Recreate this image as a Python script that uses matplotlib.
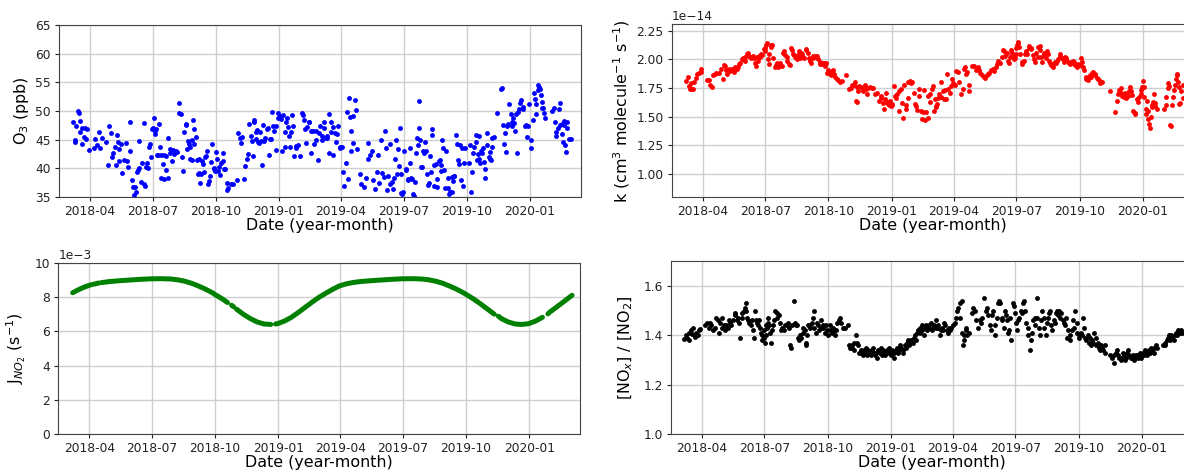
import numpy as np
import matplotlib
matplotlib.use("Agg")
import matplotlib.pyplot as plt
import matplotlib.dates as mdates

# Day offsets are counted from 2018-03-01
BASE_DATE = np.datetime64("2018-03-01")

# ---------------- O3 (ppb) ----------------
o3_days = [7, 9, 10, 11, 13, 15, 16, 17, 19, 20, 22, 24, 25, 27, 29,
           37, 39, 42, 44, 46, 49, 55, 58, 59, 61,
           63, 64, 67, 69, 70, 72, 73, 74, 76, 78, 81, 83, 85, 87, 89, 90, 92,
           93, 95, 96, 98, 99, 101, 102, 103, 105, 107, 109, 110, 111, 112, 114, 116, 117, 118, 120, 121, 122,
           124, 125, 126, 127, 128, 130, 131, 133, 134, 135, 137, 138, 139, 141, 142, 144, 145, 147, 148, 150, 152, 153,
           156, 158, 160, 161, 163, 165, 166, 168, 170, 171, 172, 174, 175, 176, 177, 179, 180, 181, 182, 183,
           185, 186, 188, 189, 190, 191, 193, 194, 196, 197, 199, 200, 201, 203, 204, 206, 207, 209, 211, 212, 213,
           215, 216, 217, 218, 220, 222, 224, 225, 226, 228, 230, 231, 232, 236, 239, 245,
           247, 249, 250, 252, 255, 256, 259, 261, 262, 265, 266, 268, 269, 270, 272, 273, 274, 276,
           277, 279, 280, 281, 283, 284, 286, 288, 290, 291, 293, 294, 296, 297, 299, 301, 302, 304, 305,
           308, 309, 310, 312, 314, 315, 316, 318, 319, 320, 322, 323, 325, 327, 328, 330, 331, 333, 336,
           340, 341, 342, 344, 345, 347, 349, 350, 352, 353, 355, 357, 359, 360, 362, 364,
           365, 368, 369, 371, 372, 374, 375, 376, 378, 379, 381, 382, 384, 385, 387, 389, 390, 392, 394, 395,
           397, 399, 400, 403, 405, 406, 407, 409, 410, 411, 413, 414, 417, 418, 420, 423, 425,
           430, 433, 435, 436, 438, 441, 443, 446, 448, 450, 452, 454, 456,
           458, 460, 462, 463, 465, 467, 468, 470, 471, 473, 475, 476, 478, 479, 481, 482, 483, 484, 485, 486,
           488, 490, 491, 493, 494, 496, 497, 498, 500, 501, 502, 503, 505, 507, 508, 509, 510, 511, 512, 514, 515, 517,
           518, 520, 521, 522, 524, 525, 527, 528, 529, 531, 532, 534, 535, 536, 538, 540, 541, 542, 543, 544, 546, 547,
           549, 551, 552, 553, 555, 557, 558, 559, 560, 561, 563, 565, 566, 567, 569, 571, 572, 574, 575, 577,
           582, 583, 585, 587, 588, 590, 592, 593, 594, 595, 596, 597, 598, 600, 601, 602, 604, 605, 606, 608, 609,
           611, 612, 613, 614, 615, 616, 618, 623, 629, 630, 632, 633, 635, 636, 638, 639,
           641, 643, 644, 645, 646, 648, 649, 650, 652, 653, 655, 656, 658, 660, 661, 663, 665, 666, 668, 670,
           672, 673, 675, 676, 678, 679, 680, 682, 683, 684, 685, 687, 688, 689, 690, 691, 693,
           703, 706, 707, 708, 709, 711, 713, 714, 715, 717, 718, 719, 720, 721, 722, 723, 724, 725, 727, 730]
o3_ppb = [48, 44.6, 45, 47.3, 50, 49.7, 46.3, 48.3, 47, 44.2, 45.5, 47, 45.2, 46.8, 43.2,
          43.6, 45.1, 44, 46.4, 43.6, 45.3, 44.6, 40.5, 47.4, 46.2,
          42, 42.6, 43.8, 40.5, 45.9, 44.6, 41.3, 43.3, 44.2, 39.2, 41.4, 44.4, 41.2, 40.2, 48, 43, 38,
          36.8, 35.3, 36.8, 35.9, 39.4, 39.7, 40, 44.7, 37.6, 41, 47.9, 37.3, 36.9, 40.2, 41, 40, 43.7, 44.3, 42, 46.9, 47,
          48.8, 46.5, 46, 46.8, 42.3, 42.4, 47.8, 43.8, 42.3, 38.3, 40.7, 38.2, 42.3, 39.7, 42.2, 38.3, 45.3, 43.4, 42.7, 41.2, 43.2, 42.5,
          43, 42.8, 49.6, 51.4, 49.4, 42, 39.5, 46.3, 47.8, 47.6, 43.4, 44.7, 44.3, 41.7, 43.7, 41.5, 45, 48.5, 46.8, 44.3,
          45.5, 41.4, 39, 41.7, 39.2, 37.4, 39, 41.3, 40.8, 39.3, 42, 42.2, 43, 37.3, 37.8, 38.6, 41.1, 44.3, 39.9, 40, 39.5,
          42.8, 41.7, 39.5, 40.2, 38.9, 41, 42.6, 41.3, 39.8, 39.8, 37.4, 36.3, 36.6, 37.2, 37.2, 38,
          46.1, 45.3, 44.4, 45.4, 38.2, 40.4, 41.7, 42.5, 47.7, 45.7, 44.8, 42.2, 48.4, 48.1, 46.3, 45.2, 46.7, 44.6,
          44.5, 46.3, 44.8, 40.6, 47.5, 44.8, 45.3, 46.9, 47, 42.4, 45.2, 45.2, 49.8, 47.3, 46.5, 47.3, 43.2, 49.6, 48.7,
          49.2, 48.6, 43, 49.3, 46.4, 43.7, 48.1, 48.8, 47.2, 45.7, 43.7, 46.4, 49.3, 47.4, 42.2, 43.9, 43.6, 44.1, 42.1,
          49.7, 49.3, 48.4, 46.8, 44.4, 47.2, 48.1, 48, 42.6, 46.6, 46.6, 44.2, 46.5, 45, 41.4, 46.2,
          47.4, 45, 45.7, 47, 48, 45.3, 45.3, 45.6, 42.7, 49.4, 46.3, 48, 47.2, 42.3, 46.1, 44.6, 46, 47.3, 43.6, 43.8,
          43.8, 39.3, 37, 41, 49.9, 38.2, 52.3, 49, 46.5, 43, 44.4, 49.2, 51.9, 50.2, 43.3, 39.1, 37.2,
          36.7, 38.3, 44.4, 41.7, 42.3, 43, 37.9, 36.4, 39.3, 42.3, 37.5, 44.9, 39.2,
          38.5, 46.6, 43.5, 36.3, 38.7, 37.2, 44.2, 37.7, 36.4, 38.3, 41.7, 45, 39.1, 43.4, 40.4, 47.1, 39, 35.7, 35.5, 35.9,
          43, 39.7, 39.8, 37.9, 38.2, 43.6, 41, 38.3, 38.2, 35.5, 35.2, 37.6, 42.7, 45.3, 44, 51.8, 47, 45, 40.3, 40.3, 43, 42.7,
          44.6, 43, 39, 37.1, 37.5, 42.2, 39.3, 46.8, 45.8, 40.6, 36.9, 40.7, 38.2, 36.8, 41.3, 41.5, 40.5, 39.5, 45, 43.6, 39.7, 36.6,
          43, 36.6, 38.3, 35.5, 35.8, 35.9, 38.5, 37.8, 38.6, 38.7, 45.8, 44.2, 41.4, 40.8, 44, 37.9, 43.6, 36.9, 40.9, 43.6,
          40.9, 44, 35.8, 39.4, 42.6, 43.8, 45.9, 44.6, 41.4, 42.5, 45.6, 41.6, 40.9, 43, 42.6, 43.6, 41.1, 38.4, 39.8, 44, 46.1,
          42, 41.6, 42.9, 41.4, 43.8, 45.3, 45.5, 49.6, 53.9, 54.1, 47.5, 44.3, 46.1, 42.9, 47.4, 47.8,
          51.3, 49.5, 47.3, 48, 48.8, 47.9, 46.6, 49.4, 42.7, 49.8, 50.4, 51.4, 51.9, 50.3, 50.7, 47.4, 47.6, 45.5, 47.3, 51.2,
          44.9, 43.5, 48.4, 53.2, 52.1, 49.4, 51.2, 53.6, 54.6, 54.2, 53.9, 52.8, 51.6, 50.6, 50.6, 49.7, 48.7,
          50, 50.5, 48, 46.3, 45.6, 47, 50.3, 51.4, 47.5, 47.8, 46, 44.6, 47.6, 48.3, 44.1, 42.8, 48.1, 47, 45.1, 45.2]

# ---------------- rate constant k (units of 1e-14 cm3 molecule-1 s-1) ----------------
k_days = [7, 9, 11, 12, 14, 16, 17, 19, 21, 23, 25, 28, 29,
          38, 40, 42, 44, 46, 49, 51, 55, 57, 60, 62, 63, 65,
          67, 69, 71, 73, 74, 76, 78, 81, 83, 84, 86, 88, 90, 92, 93, 95, 97, 98, 100, 101, 104, 105, 107, 108,
          110, 111, 113, 115, 116, 118, 120, 121, 122, 123, 125, 126, 127, 128, 130, 131, 132, 134, 136, 137, 139, 141, 142, 144, 146,
          148, 149, 151, 153, 154, 156, 158, 159, 161, 163, 164, 166, 168, 169, 171, 173, 174, 176, 177, 179,
          181, 182, 184, 186, 187, 189, 191, 192, 194, 196, 197, 199, 201, 202, 204, 206, 207, 209, 210, 212,
          214, 215, 217, 219, 220, 222, 224, 226, 228, 230, 233, 239, 244, 246,
          248, 251, 253, 254, 255, 256, 257, 259, 261, 262, 264, 267, 269, 270, 272, 274, 277, 279, 282, 284,
          288, 290, 291, 293, 294, 296, 297, 299, 300, 302, 303, 305, 306, 307, 309, 311, 312, 314, 316, 317, 319, 321, 322, 324, 326, 327,
          329, 330, 332, 334, 336, 338, 340, 341, 343, 345, 346, 348, 350, 352, 353, 355, 356, 358, 359, 361,
          362, 364, 366, 367, 369, 370, 371, 372, 373, 375, 377, 378, 380, 382, 383, 385, 386, 388, 390, 392, 394, 395,
          398, 400, 402, 404, 407, 409, 411, 413, 414, 416, 418, 419, 422, 426, 429,
          431, 433, 435, 437, 440, 442, 444, 446, 448, 450, 453, 455, 457, 459, 461, 464, 466, 468, 469,
          471, 473, 475, 476, 478, 480, 481, 483, 484, 485, 486, 487, 488, 489, 490, 491, 492,
          495, 496, 498, 500, 501, 503, 505, 506, 508, 509, 511, 513, 514, 516, 518, 519, 521, 522, 523, 525, 527, 528, 530, 532, 533, 535,
          536, 538, 540, 541, 543, 545, 546, 548, 550, 551, 553, 555, 556, 558, 560, 561, 563, 565, 566, 568, 570, 571, 573, 575, 577, 579,
          581, 583, 584, 586, 588, 589, 591, 592, 594, 596, 597, 599, 601, 602, 604, 606, 607, 609, 611,
          624, 631, 633, 635, 637, 639, 640, 641, 642, 644, 645, 647, 648, 649, 651, 652, 654, 655, 657, 659, 660,
          663, 664, 666, 668, 669, 670, 671, 672, 673, 675, 676, 677, 678, 679, 680, 682, 683, 684, 685, 686, 687, 688, 689, 691,
          702, 704, 705, 707, 708, 709, 711, 712, 713, 715, 716, 718, 719, 720, 721, 722, 723, 724, 725, 727, 729, 730]
k_e14 = [1.81, 1.85, 1.77, 1.74, 1.79, 1.74, 1.74, 1.8, 1.84, 1.87, 1.88, 1.89, 1.92,
         1.82, 1.82, 1.78, 1.76, 1.86, 1.87, 1.88, 1.88, 1.92, 1.83, 1.95, 1.94, 1.91,
         1.87, 1.92, 1.9, 1.92, 1.91, 1.89, 1.93, 1.92, 1.93, 1.96, 1.97, 2.0, 2.01, 2.02, 1.99, 2.05, 2.06, 2.03, 2.02, 2.01, 2.03, 2.01, 1.97, 1.94,
         2.02, 1.99, 2.03, 2.02, 2.05, 2.04, 2.09, 2.1, 2.07, 2.13, 2.14, 2.0, 1.96, 2.05, 2.11, 2.13, 2.13, 2.01, 1.93, 1.95, 1.97, 1.93, 1.94, 1.97, 1.94,
         2.06, 2.07, 2.04, 2.02, 1.99, 1.96, 1.95, 2.1, 2.08, 2.05, 2.04, 2.02, 2.0, 2.04, 2.07, 2.01, 2.06, 2.05, 2.02, 2.01,
         2.09, 2.08, 2.06, 2.01, 1.99, 1.97, 2.03, 2.01, 2.03, 2.02, 2.03, 2.0, 1.96, 1.98, 1.96, 1.97, 1.97, 1.94, 1.97, 1.88,
         1.91, 1.88, 1.86, 1.9, 1.91, 1.87, 1.85, 1.83, 1.82, 1.8, 1.81, 1.86, 1.74, 1.75,
         1.78, 1.78, 1.8, 1.64, 1.76, 1.63, 1.72, 1.77, 1.76, 1.75, 1.72, 1.78, 1.74, 1.7, 1.75, 1.76, 1.75, 1.75, 1.7, 1.71,
         1.64, 1.68, 1.66, 1.62, 1.57, 1.65, 1.71, 1.62, 1.63, 1.6, 1.64, 1.59, 1.61, 1.6, 1.77, 1.68, 1.66, 1.7, 1.55, 1.72, 1.74, 1.62, 1.49, 1.78, 1.6, 1.57,
         1.66, 1.8, 1.81, 1.79, 1.8, 1.71, 1.61, 1.59, 1.56, 1.68, 1.74, 1.55, 1.48, 1.54, 1.73, 1.47, 1.54, 1.49, 1.68, 1.63,
         1.7, 1.74, 1.77, 1.55, 1.65, 1.58, 1.59, 1.61, 1.66, 1.7, 1.67, 1.8, 1.72, 1.65, 1.73, 1.65, 1.87, 1.74, 1.71, 1.77, 1.83, 1.79,
         1.78, 1.9, 1.89, 1.8, 1.7, 1.74, 1.92, 1.93, 1.87, 1.89, 1.78, 1.72, 1.94, 1.94, 1.91,
         1.93, 1.91, 1.88, 1.86, 1.85, 1.84, 1.86, 1.87, 1.88, 1.91, 1.92, 1.9, 1.93, 1.96, 1.99, 1.97, 2.02, 2.08, 2.07,
         2.03, 2.06, 1.99, 1.97, 2.02, 2.08, 2.06, 2.03, 2.0, 2.01, 2.05, 2.1, 2.13, 2.14, 2.15, 2.11, 2.05,
         1.98, 1.96, 1.99, 2.05, 2.07, 2.05, 2.1, 2.12, 2.09, 2.1, 2.04, 2.0, 1.98, 2.06, 2.02, 2.11, 2.12, 2.08, 2.02, 1.98, 2.06, 2.04, 2.01, 2.07, 2.05, 1.99,
         1.97, 1.95, 1.93, 1.96, 1.98, 1.97, 1.99, 2.0, 2.03, 2.05, 2.01, 2.0, 1.98, 2.02, 2.01, 1.99, 1.97, 1.96, 1.98, 1.97, 1.99, 1.98, 1.95, 1.93, 1.96, 1.95,
         2.01, 1.98, 1.93, 1.91, 1.85, 1.83, 1.82, 1.84, 1.86, 1.85, 1.88, 1.89, 1.87, 1.86, 1.84, 1.83, 1.82, 1.79, 1.8,
         1.72, 1.54, 1.64, 1.7, 1.73, 1.75, 1.71, 1.68, 1.7, 1.67, 1.71, 1.66, 1.7, 1.68, 1.72, 1.76, 1.72, 1.69, 1.55, 1.52, 1.53,
         1.65, 1.63, 1.67, 1.7, 1.73, 1.76, 1.81, 1.76, 1.67, 1.52, 1.57, 1.64, 1.55, 1.48, 1.44, 1.4, 1.5, 1.58, 1.6, 1.63, 1.7, 1.62, 1.59, 1.57,
         1.57, 1.6, 1.67, 1.75, 1.79, 1.77, 1.43, 1.42, 1.6, 1.67, 1.73, 1.78, 1.83, 1.87, 1.86, 1.8, 1.76, 1.61, 1.62, 1.72, 1.66, 1.78]

# ---------------- photolysis frequency J_NO2 (units of 1e-3 s-1); NaN marks missing days ----------------
j_days = [7, 15, 24, 31, 34, 36, 38, 45, 47, 49, 60, 75, 90, 105, 120, 135, 150, 160, 170, 180,
          190, 200, 210, 215, 225, 232, 235, 238, 241, 243, 245, 255, 265, 275, 285, 295, 300, 302,
          305, 315, 325, 335, 345, 355, 365, 375, 385, 395, 405, 415, 425, 440, 455, 470, 485, 500,
          515, 525, 535, 545, 555, 565, 575, 580, 590, 600, 610, 620, 623, 626, 630, 640, 650, 660,
          670, 680, 690, 695, 698, 700, 710, 720, 733]
j_e3 = [8.25, 8.42, 8.58, 8.68, 8.72, np.nan, 8.75, 8.82, np.nan, 8.84, 8.90, 8.95, 8.99, 9.03, 9.06,
        9.07, 9.05, 9.00, 8.92, 8.80, 8.64, 8.46, 8.25, 8.12, 7.88, 7.68, np.nan, 7.52, 7.43, np.nan,
        7.30, 7.00, 6.75, 6.55, 6.43, 6.40, np.nan, 6.43, 6.45, 6.60, 6.82, 7.10, 7.40, 7.70, 7.98,
        8.22, 8.45, 8.65, 8.77, 8.85, 8.90, 8.95, 8.99, 9.03, 9.06, 9.07, 9.05, 9.00, 8.92, 8.80,
        8.64, 8.46, 8.25, 8.13, 7.88, 7.60, 7.30, 7.00, np.nan, 6.88, 6.75, 6.55, 6.43, 6.40, 6.45,
        6.60, 6.82, np.nan, 7.02, 7.10, 7.40, 7.70, 8.10]

# ---------------- [NOx]/[NO2] ratio ----------------
r_days = [6, 8, 10, 12, 13, 15, 17, 18, 20, 22, 23, 25, 27, 29,
          36, 39, 41, 43, 45, 47, 50, 52, 55, 56, 58, 60, 61, 63, 65,
          67, 69, 71, 72, 74, 77, 79, 80, 82, 84, 85, 87, 89, 90, 92, 94, 95, 96, 97, 99, 100, 102,
          104, 105, 107, 108, 110, 112, 113, 115, 116, 117, 118, 119, 121, 122, 123, 124, 125, 126, 127, 128, 129, 130, 132,
          133, 135, 136, 138, 140, 141, 143, 145, 146, 148, 150, 152, 155, 157, 158, 160, 161, 163, 165, 166, 168, 169,
          171, 173, 174, 176, 178, 179, 181, 182, 183, 184, 186, 188, 189, 191, 193, 194, 195, 197, 199, 200, 202, 204, 205, 207, 208, 210, 212, 213,
          215, 217, 218, 220, 222, 223, 225, 227, 228, 230, 232, 233, 237, 240, 244,
          245, 247, 249, 250, 252, 253, 255, 257, 258, 260, 262, 263, 265, 267, 268, 270, 272, 273, 275, 277, 278, 280, 282, 283,
          285, 286, 288, 290, 291, 293, 295, 296, 298, 300, 301, 303, 305, 306, 308, 310, 311, 313, 315, 316, 318, 319, 321, 323, 324, 326,
          328, 329, 331, 333, 334, 336, 338, 339, 341, 343, 344, 346, 348, 349, 351, 352, 354, 356, 357, 359, 361,
          362, 364, 366, 367, 369, 371, 372, 374, 375, 377, 379, 380, 382, 384, 385, 387, 389, 390, 392, 394,
          396, 399, 401, 402, 404, 406, 407, 409, 410, 411, 412, 413, 415, 416, 417, 419,
          424, 426, 428, 430, 433, 435, 437, 439, 441, 444, 446, 448, 450, 452, 453, 455,
          457, 458, 460, 462, 463, 465, 467, 468, 470, 472, 473, 475, 477, 478, 480, 481, 483, 485, 486,
          488, 490, 491, 493, 495, 496, 498, 500, 501, 503, 505, 506, 508, 510, 511, 513, 515, 516, 518, 519, 521, 523, 524, 526, 528,
          529, 531, 533, 534, 536, 538, 539, 541, 543, 544, 546, 547, 549, 551, 552, 554, 556, 558, 559, 561, 562, 564, 566, 567, 569, 571, 572, 574, 576, 577,
          579, 580, 582, 584, 585, 587, 589, 590, 592, 594, 595, 597, 599, 600, 602, 604, 605, 607, 608, 610, 612, 613, 615, 617, 618,
          624, 627, 630, 631, 633, 635, 636, 638, 640, 641, 643, 645, 646, 648, 650, 651, 653, 655, 656, 658, 660, 661, 663, 665, 666, 668,
          670, 671, 673, 674, 676, 678, 679, 681, 683, 684, 686, 688, 689, 691, 693,
          702, 704, 705, 707, 709, 710, 712, 714, 715, 717, 719, 720, 722, 723, 726, 728, 730]
r_ratio = [1.385, 1.40, 1.39, 1.38, 1.41, 1.42, 1.405, 1.43, 1.40, 1.395, 1.41, 1.40, 1.42, 1.425,
           1.44, 1.45, 1.43, 1.45, 1.44, 1.42, 1.43, 1.47, 1.46, 1.41, 1.45, 1.43, 1.47, 1.44, 1.42,
           1.44, 1.43, 1.46, 1.45, 1.44, 1.46, 1.48, 1.49, 1.46, 1.47, 1.45, 1.39, 1.47, 1.49, 1.5, 1.51, 1.53, 1.5, 1.47, 1.46, 1.45, 1.44,
           1.46, 1.42, 1.39, 1.5, 1.46, 1.45, 1.44, 1.46, 1.43, 1.41, 1.4, 1.38, 1.42, 1.39, 1.37, 1.4, 1.44, 1.43, 1.45, 1.47, 1.44, 1.41, 1.37,
           1.42, 1.44, 1.46, 1.5, 1.49, 1.47, 1.48, 1.45, 1.42, 1.43, 1.42, 1.44, 1.44, 1.45, 1.43, 1.36, 1.35, 1.44, 1.54, 1.45, 1.44, 1.44,
           1.39, 1.38, 1.4, 1.39, 1.41, 1.43, 1.42, 1.37, 1.36, 1.4, 1.44, 1.43, 1.44, 1.45, 1.47, 1.5, 1.43, 1.41, 1.45, 1.44, 1.42, 1.43, 1.46, 1.44, 1.43, 1.41, 1.44, 1.42,
           1.4, 1.44, 1.42, 1.41, 1.43, 1.42, 1.4, 1.42, 1.45, 1.46, 1.47, 1.45, 1.43, 1.43, 1.44,
           1.36, 1.35, 1.35, 1.36, 1.34, 1.37, 1.4, 1.37, 1.36, 1.33, 1.34, 1.33, 1.32, 1.34, 1.33, 1.35, 1.32, 1.34, 1.33, 1.32, 1.34, 1.35, 1.33, 1.32,
           1.33, 1.31, 1.34, 1.33, 1.35, 1.32, 1.34, 1.33, 1.32, 1.34, 1.33, 1.35, 1.33, 1.32, 1.34, 1.33, 1.31, 1.34, 1.35, 1.33, 1.34, 1.36, 1.35, 1.34, 1.33, 1.36,
           1.35, 1.37, 1.38, 1.36, 1.37, 1.38, 1.37, 1.39, 1.4, 1.38, 1.41, 1.42, 1.41, 1.43, 1.44, 1.42, 1.4, 1.43, 1.44, 1.42, 1.43,
           1.44, 1.45, 1.42, 1.43, 1.44, 1.46, 1.43, 1.44, 1.43, 1.4, 1.42, 1.43, 1.42, 1.45, 1.44, 1.42, 1.41, 1.43, 1.42, 1.43,
           1.44, 1.45, 1.47, 1.5, 1.51, 1.47, 1.53, 1.54, 1.41, 1.36, 1.38, 1.4, 1.43, 1.42, 1.4, 1.41,
           1.49, 1.51, 1.5, 1.46, 1.43, 1.46, 1.45, 1.47, 1.55, 1.5, 1.51, 1.48, 1.44, 1.42, 1.48, 1.5,
           1.4, 1.44, 1.47, 1.53, 1.54, 1.53, 1.47, 1.46, 1.43, 1.5, 1.48, 1.46, 1.41, 1.42, 1.47, 1.38, 1.53, 1.52, 1.49,
           1.45, 1.42, 1.46, 1.47, 1.5, 1.49, 1.53, 1.54, 1.5, 1.45, 1.43, 1.4, 1.34, 1.38, 1.41, 1.46, 1.44, 1.47, 1.55, 1.47, 1.43, 1.4, 1.46, 1.5, 1.47,
           1.43, 1.4, 1.45, 1.47, 1.49, 1.5, 1.44, 1.42, 1.46, 1.45, 1.49, 1.5, 1.48, 1.5, 1.47, 1.49, 1.46, 1.45, 1.44, 1.47, 1.39, 1.42, 1.38, 1.4, 1.42, 1.46, 1.43, 1.5, 1.45, 1.41,
           1.4, 1.39, 1.41, 1.4, 1.47, 1.43, 1.39, 1.38, 1.4, 1.37, 1.39, 1.36, 1.38, 1.37, 1.41, 1.39, 1.36, 1.37, 1.35, 1.34, 1.36, 1.35, 1.34, 1.36, 1.33,
           1.32, 1.31, 1.29, 1.32, 1.33, 1.34, 1.32, 1.31, 1.3, 1.31, 1.33, 1.32, 1.3, 1.31, 1.33, 1.34, 1.32, 1.31, 1.31, 1.32, 1.3, 1.31, 1.32, 1.31, 1.32, 1.33,
           1.31, 1.32, 1.33, 1.32, 1.34, 1.33, 1.32, 1.34, 1.33, 1.35, 1.34, 1.33, 1.35, 1.36, 1.35,
           1.36, 1.37, 1.36, 1.38, 1.39, 1.4, 1.38, 1.4, 1.39, 1.38, 1.4, 1.41, 1.4, 1.42, 1.41, 1.42, 1.41]

X_LABEL = "Date (year-month)"
X_START, X_END = np.datetime64("2018-02-15"), np.datetime64("2020-03-15")


def as_dates(days):
    return BASE_DATE + np.asarray(days).astype("timedelta64[D]")


fig = plt.figure(figsize=(11.84, 4.73), dpi=100)

# axes boxes: [left, bottom, width, height]; the right column runs past the figure edge
ax_o3 = fig.add_axes([0.0498, 0.5835, 0.4409, 0.3636])
ax_k = fig.add_axes([0.5673, 0.5829, 0.4409, 0.3664])
ax_j = fig.add_axes([0.0492, 0.0818, 0.4409, 0.3628])
ax_r = fig.add_axes([0.5665, 0.0818, 0.4409, 0.3664])

TICK_SIZE = 8.8
LABEL_SIZE = 11.4
MS = 3.5

ax_o3.plot(as_dates(o3_days), o3_ppb, "o", color="blue", ms=MS, mew=0)
ax_k.plot(as_dates(k_days), np.array(k_e14) * 1e-14, "o", color="red", ms=MS, mew=0)
ax_j.plot(as_dates(j_days), np.array(j_e3) * 1e-3, "-", color="green", lw=3.6,
          solid_capstyle="round")
ax_r.plot(as_dates(r_days), r_ratio, "o", color="black", ms=MS, mew=0)

ax_o3.set_ylim(35, 65)
ax_o3.set_yticks(np.arange(35, 66, 5))
ax_o3.set_ylabel("O$_3$ (ppb)", fontsize=LABEL_SIZE, labelpad=3)

ax_k.set_ylim(0.795e-14, 2.31e-14)
ax_k.set_yticks(np.arange(1.0, 2.26, 0.25) * 1e-14)
ax_k.set_ylabel("k (cm$^3$ molecule$^{-1}$ s$^{-1}$)", fontsize=LABEL_SIZE, labelpad=3)

ax_j.set_ylim(0, 0.010)
ax_j.set_yticks(np.arange(0, 0.0101, 0.002))
ax_j.ticklabel_format(axis="y", style="sci", scilimits=(-3, -3))
ax_j.set_ylabel(r"J$_{NO_2}$ (s$^{-1}$)", fontsize=LABEL_SIZE, labelpad=5)

ax_r.set_ylim(1.0, 1.7)
ax_r.set_yticks([1.0, 1.2, 1.4, 1.6])
ax_r.set_ylabel("[NO$_x$] / [NO$_2$]", fontsize=LABEL_SIZE, labelpad=6)

for ax in (ax_o3, ax_k, ax_j, ax_r):
    ax.set_xlim(X_START, X_END)
    ax.xaxis.set_major_locator(mdates.MonthLocator(bymonth=[1, 4, 7, 10]))
    ax.xaxis.set_major_formatter(mdates.DateFormatter("%Y-%m"))
    ax.set_xlabel(X_LABEL, fontsize=LABEL_SIZE, labelpad=0)
    ax.tick_params(labelsize=TICK_SIZE, colors="#222222", length=2.8, pad=3)
    ax.grid(True, color="#cfcfcf", linewidth=1.0)
    ax.set_axisbelow(True)
    for sp in ax.spines.values():
        sp.set_color("#444444")
    ax.yaxis.get_offset_text().set_fontsize(TICK_SIZE)

fig.savefig("out.png", dpi=100)
